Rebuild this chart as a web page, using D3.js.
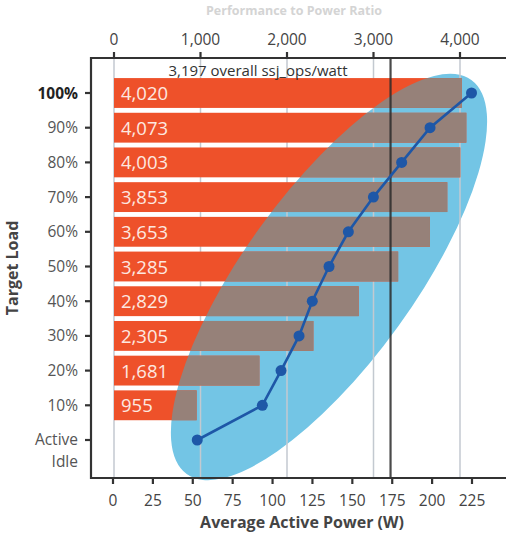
<!DOCTYPE html>
<html><head><meta charset="utf-8">
<script src="https://cdn.jsdelivr.net/npm/d3@7"></script>
<style>body{margin:0;background:#fff}svg{display:block;font-family:"Open Sans",sans-serif}</style>
</head><body>
<svg id="c" width="508" height="535"></svg>
<script>
const categories = ["100%","90%","80%","70%","60%","50%","40%","30%","20%","10%","Active Idle"];
const ratioValues = [4020,4073,4003,3853,3653,3285,2829,2305,1681,955];
const powerValues = [224.7,198.7,180.9,163.2,147.5,135.4,124.9,116.6,105.3,93.6,52.8];
const topTicks = [0,1000,2000,3000,4000];
const bottomTicks = [0,25,50,75,100,125,150,175,200,225];
const overallRatio = 3197;

const svg = d3.select("#c");
const xTop = d3.scaleLinear().domain([0,4000]).range([114,460]);
const xBot = d3.scaleLinear().domain([0,225]).range([113,472]);
const y = d3.scalePoint().domain(categories).range([93,440]);
const barH = y.step()*0.86;
const fmt = d3.format(",");

const defs = svg.append("defs");
defs.append("clipPath").attr("id","eclip").append("ellipse")
  .attr("cx",329).attr("cy",277).attr("rx",243).attr("ry",85).attr("transform","rotate(-54.15,329,277)");
// faint top title
svg.append("text").attr("x",294).attr("y",15).attr("text-anchor","middle")
  .attr("font-size",12.5).attr("font-weight","bold").attr("fill","#d4d4d4").text("Performance to Power Ratio");

// ellipse
svg.append("ellipse").attr("cx",329).attr("cy",277).attr("rx",243).attr("ry",85)
  .attr("transform","rotate(-54.15,329,277)").attr("fill","#73c5e5");

// gridlines
svg.append("g").selectAll("line").data(topTicks).join("line")
  .attr("x1",d=>xTop(d)).attr("x2",d=>xTop(d)).attr("y1",58).attr("y2",478)
  .attr("stroke","#c3c9d0").attr("stroke-width",1.5);

// bars
const bars = categories.slice(0,10).map((c,i)=>({c,v:ratioValues[i]}));
svg.append("g").selectAll("rect").data(bars).join("rect")
  .attr("x",xTop(0)).attr("y",d=>y(d.c)-barH/2).attr("width",d=>xTop(d.v)-xTop(0)).attr("height",barH)
  .attr("fill","#ee512a");
svg.append("g").attr("clip-path","url(#eclip)").selectAll("rect").data(bars).join("rect")
  .attr("x",xTop(0)).attr("y",d=>y(d.c)-barH/2).attr("width",d=>xTop(d.v)-xTop(0)).attr("height",barH)
  .attr("fill","#968179");
svg.append("g").selectAll("text").data(bars).join("text")
  .attr("x",xTop(0)+7).attr("y",d=>y(d.c)+7).attr("font-size",18.5).attr("fill","#fde8e0").text(d=>fmt(d.v));

// overall line
svg.append("line").attr("x1",xTop(overallRatio)).attr("x2",xTop(overallRatio)).attr("y1",58).attr("y2",478)
  .attr("stroke","#2a2a2a").attr("stroke-opacity",0.85).attr("stroke-width",2.2);
svg.append("text").attr("x",258).attr("y",76).attr("text-anchor","middle").attr("font-size",15).attr("fill","#333")
  .text(fmt(overallRatio)+" overall ssj_ops/watt");

// axes frame
const ax = svg.append("g").attr("stroke","#333").attr("stroke-width",2.2);
ax.append("line").attr("x1",91).attr("x2",506).attr("y1",58).attr("y2",58);
ax.append("line").attr("x1",91).attr("x2",506).attr("y1",478).attr("y2",478);
ax.append("line").attr("x1",91).attr("x2",91).attr("y1",57).attr("y2",479);

// top axis
const gt = svg.append("g");
gt.selectAll("line").data(topTicks).join("line").attr("x1",d=>xTop(d)).attr("x2",d=>xTop(d)).attr("y1",52).attr("y2",58)
  .attr("stroke","#333").attr("stroke-width",2.2);
gt.selectAll("text").data(topTicks).join("text").attr("x",d=>xTop(d)).attr("y",45).attr("text-anchor","middle")
  .attr("font-size",15.5).attr("fill","#444").text(d=>fmt(d));

// bottom axis
const gb = svg.append("g");
gb.selectAll("line").data(bottomTicks).join("line").attr("x1",d=>xBot(d)).attr("x2",d=>xBot(d)).attr("y1",478).attr("y2",484)
  .attr("stroke","#333").attr("stroke-width",2.2);
gb.selectAll("text").data(bottomTicks).join("text").attr("x",d=>xBot(d)).attr("y",506).attr("text-anchor","middle")
  .attr("font-size",15.5).attr("fill","#444").text(d=>d);
svg.append("text").attr("x",302).attr("y",528).attr("text-anchor","middle").attr("font-size",16).attr("font-weight","bold")
  .attr("fill","#444").text("Average Active Power (W)");

// left axis
const gl = svg.append("g");
gl.selectAll("line").data(categories).join("line").attr("x1",85).attr("x2",91).attr("y1",d=>y(d)).attr("y2",d=>y(d))
  .attr("stroke","#333").attr("stroke-width",2.2);
gl.selectAll("text").data(categories).join("text").attr("x",78).attr("text-anchor","end")
  .attr("font-size",15.5).attr("fill",d=>d==="100%"?"#222":"#555").attr("font-weight",d=>d==="100%"?"bold":"normal")
  .each(function(d){
    const t=d3.select(this);
    if(d==="Active Idle"){
      t.append("tspan").attr("x",78).attr("y",y(d)+5).text("Active");
      t.append("tspan").attr("x",78).attr("y",y(d)+27).text("Idle");
    } else t.attr("y",y(d)+5.5).text(d);
  });
svg.append("text").attr("transform","translate(18,268) rotate(-90)").attr("text-anchor","middle").attr("font-size",16)
  .attr("font-weight","bold").attr("fill","#444").text("Target Load");

// power line
const pts = categories.map((c,i)=>({c,v:powerValues[i]}));
svg.append("path").datum(pts).attr("fill","none").attr("stroke","#1e57a7").attr("stroke-width",2.6)
  .attr("d",d3.line().x(d=>xBot(d.v)).y(d=>y(d.c)));
svg.append("g").selectAll("circle").data(pts).join("circle").attr("cx",d=>xBot(d.v)).attr("cy",d=>y(d.c)).attr("r",5.5)
  .attr("fill","#1e57a7");
</script>
</body></html>
